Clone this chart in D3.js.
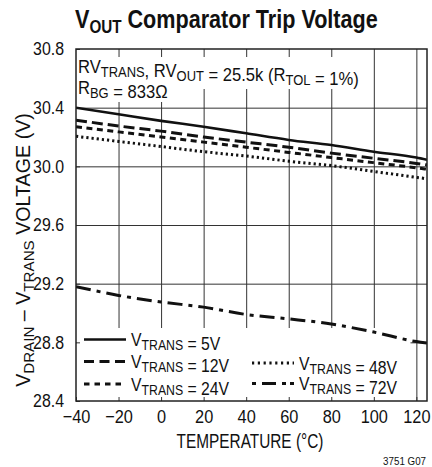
<!DOCTYPE html>
<html>
<head>
<meta charset="utf-8">
<script src="https://cdn.jsdelivr.net/npm/d3@7"></script>
<style>
  body { margin: 0; background: #fff; }
  svg { display: block; font-family: "Liberation Sans", Arial, sans-serif; }
</style>
</head>
<body>
<script>
// temperature (°C) and trip voltage (V)
var temps = [-40, -20, 0, 20, 40, 60, 80, 100, 120, 125];
var v5  = [30.40, 30.355, 30.31, 30.27, 30.225, 30.18, 30.145, 30.10, 30.06, 30.045];
var v12 = [30.315, 30.275, 30.24, 30.20, 30.165, 30.13, 30.09, 30.055, 30.02, 30.01];
var v24 = [30.27, 30.235, 30.20, 30.165, 30.13, 30.095, 30.06, 30.025, 29.99, 29.98];
var v48 = [30.205, 30.17, 30.135, 30.10, 30.07, 30.035, 30.005, 29.965, 29.925, 29.915];
var v72 = [29.18, 29.12, 29.075, 29.04, 28.99, 28.96, 28.925, 28.87, 28.805, 28.795];
var seriesNames = ["5V", "12V", "24V", "48V", "72V"];
var xTicks = [-40, -20, 0, 20, 40, 60, 80, 100, 120];
var yTicks = [28.4, 28.8, 29.2, 29.6, 30.0, 30.4, 30.8];

var margin = {top: 49, right: 5, bottom: 66, left: 76};
var W = 432, H = 467;
var width = W - margin.left - margin.right;
var height = H - margin.top - margin.bottom;

var dashes = {
  "5V": null,
  "12V": "11,5",
  "24V": "6,4.5",
  "48V": "2.2,3",
  "72V": "15,6,4,6"
};
var allData = [v5, v12, v24, v48, v72];
var series = seriesNames.map(function(n, i){
  return {name: n, values: temps.map(function(t, j){ return {t: t, v: allData[i][j]}; })};
});

var x = d3.scaleLinear().domain([-40, 125]).range([0, width]);
var y = d3.scaleLinear().domain([28.4, 30.8]).range([height, 0]);

// no condensed face installed, so squeeze text horizontally round its anchor
function squeeze(sel, k){
  sel.each(function(){
    var t = d3.select(this);
    var x0 = +t.attr("x") || 0, y0 = +t.attr("y") || 0;
    t.attr("transform", "translate(" + x0 + "," + y0 + ") scale(" + k + ",1) translate(" + (-x0) + "," + (-y0) + ")");
  });
}
function fitK(t, target){
  return target / t.node().getBBox().width;
}
function subText(parent, px, py, parts, size){
  var t = parent.append("text").attr("x", px).attr("y", py)
    .style("font-size", size + "px").attr("fill", "#111");
  parts.forEach(function(p){
    if (p.sub) {
      t.append("tspan").attr("dy", 4).style("font-size", (size * 0.78) + "px").text(p.s);
      t.append("tspan").attr("dy", -4).text("");
    } else {
      t.append("tspan").text(p.s);
    }
  });
  return t;
}

var svg = d3.select("body").append("svg")
  .attr("width", W).attr("height", H);

// title
var title = svg.append("text")
  .attr("x", 75).attr("y", 28)
  .style("font-size", "25.5px").style("font-weight", "bold").attr("fill", "#111");
title.append("tspan").text("V");
title.append("tspan").attr("dy", 5).style("font-size", "18px").text("OUT");
title.append("tspan").attr("dy", -5).text(" Comparator Trip Voltage");
squeeze(title, fitK(title, 303));

var g = svg.append("g")
  .attr("transform", "translate(" + margin.left + "," + margin.top + ")");

// grid
g.append("g")
  .call(d3.axisBottom(x).tickValues(xTicks.slice(1)).tickSize(height).tickFormat(""))
  .call(function(s){ s.select(".domain").remove(); })
  .selectAll("line").attr("stroke", "#333").attr("stroke-width", 1);
g.append("g")
  .call(d3.axisLeft(y).tickValues(yTicks.slice(1, -1)).tickSize(-width).tickFormat(""))
  .call(function(s){ s.select(".domain").remove(); })
  .selectAll("line").attr("stroke", "#333").attr("stroke-width", 1);

// note at top left, white behind the text
var note = g.append("g");
var n1 = subText(note, 2, 24, [{s:"RV"},{s:"TRANS",sub:1},{s:", RV"},{s:"OUT",sub:1},{s:" = 25.5k (R"},{s:"TOL",sub:1},{s:" = 1%)"}], 19);
var n2 = subText(note, 2, 45, [{s:"R"},{s:"BG",sub:1},{s:" = 833Ω"}], 19);
var kNote = fitK(n1, 281);
[n1, n2].forEach(function(t){
  var b = t.node().getBBox();
  squeeze(t, kNote);
  note.insert("rect", "text")
    .attr("x", 0.5).attr("y", b.y + 1).attr("width", 2 + (b.x - 2 + b.width) * kNote + 2)
    .attr("height", b.height - 1).attr("fill", "#fff");
});

// legend background
g.append("rect")
  .attr("x", 0.5).attr("y", 279).attr("width", x(117))
  .attr("height", height - 279).attr("fill", "#fff");

// inward ticks and labels
var kTick = 0.86;
var xAxis = g.append("g")
  .attr("transform", "translate(0," + height + ")")
  .call(d3.axisBottom(x).tickValues(xTicks).tickSize(-4).tickPadding(9));
xAxis.select(".domain").remove();
xAxis.selectAll("line").attr("stroke", "#333");
xAxis.selectAll("text").style("font-size", "19px").attr("fill", "#111")
  .attr("font-family", null).call(squeeze, kTick);

var yAxis = g.append("g")
  .call(d3.axisLeft(y).tickValues(yTicks).tickSize(-4).tickPadding(12).tickFormat(d3.format(".1f")));
yAxis.select(".domain").remove();
yAxis.selectAll("line").attr("stroke", "#333");
yAxis.selectAll("text").style("font-size", "18.5px").attr("fill", "#111")
  .attr("font-family", null).call(squeeze, kTick);

// data lines
g.append("clipPath").attr("id", "clip")
  .append("rect").attr("width", width).attr("height", height);
var line = d3.line()
  .x(function(d){ return x(d.t); })
  .y(function(d){ return y(d.v); })
  .curve(d3.curveMonotoneX);
g.append("g").attr("clip-path", "url(#clip)")
  .selectAll("path").data(series).enter().append("path")
  .attr("d", function(d){ return line(d.values); })
  .attr("fill", "none").attr("stroke", "#111")
  .attr("stroke-width", function(d){ return d.name == "5V" ? 2.6 : 3; })
  .attr("stroke-dasharray", function(d){ return dashes[d.name]; });

// legend
var legPos = {
  "5V":  [8, 290.5],
  "12V": [8, 312.5],
  "24V": [8, 335],
  "48V": [176, 314],
  "72V": [176, 334.5]
};
var legDash = {
  "5V": null,
  "12V": "10,5.5",
  "24V": "5.5,5",
  "48V": "2.2,3.6",
  "72V": "4,6,14,6,4"
};
var leg = g.append("g").selectAll("g").data(seriesNames).enter().append("g")
  .attr("transform", function(d){ return "translate(" + legPos[d][0] + "," + legPos[d][1] + ")"; });
leg.append("line")
  .attr("x1", 0).attr("x2", 42).attr("y1", 0).attr("y2", 0)
  .attr("stroke", "#111").attr("stroke-width", function(d){ return d == "5V" ? 2.6 : 3; })
  .attr("stroke-dasharray", function(d){ return legDash[d]; });
var kLeg;
leg.each(function(d){
  var t = subText(d3.select(this), 47, 6.5, [{s:"V"},{s:"TRANS",sub:1},{s:" = " + d}], 18.5);
  if (kLeg === undefined) kLeg = fitK(t, 90);
  squeeze(t, kLeg);
});

// frame
g.append("rect").attr("width", width).attr("height", height)
  .attr("fill", "none").attr("stroke", "#222").attr("stroke-width", 1.5);

// axis titles
var xt = svg.append("text")
  .attr("x", 250).attr("y", 448)
  .attr("text-anchor", "middle").style("font-size", "19.5px").attr("fill", "#111")
  .text("TEMPERATURE (°C)");
squeeze(xt, fitK(xt, 147));

var ytg = svg.append("g").attr("transform", "translate(30,250) rotate(-90)");
var yt = ytg.append("text").attr("x", 0).attr("y", 0)
  .attr("text-anchor", "middle").style("font-size", "19.5px").attr("fill", "#111");
yt.append("tspan").text("V");
yt.append("tspan").attr("dy", 4).style("font-size", "15px").text("DRAIN");
yt.append("tspan").attr("dy", -4).text(" – V");
yt.append("tspan").attr("dy", 4).style("font-size", "15px").text("TRANS");
yt.append("tspan").attr("dy", -4).text(" VOLTAGE (V)");
squeeze(yt, fitK(yt, 274));

var code = svg.append("text")
  .attr("x", 426).attr("y", 465).attr("text-anchor", "end")
  .style("font-size", "11.5px").attr("fill", "#111")
  .text("3751 G07");
squeeze(code, 0.85);
</script>
</body>
</html>
